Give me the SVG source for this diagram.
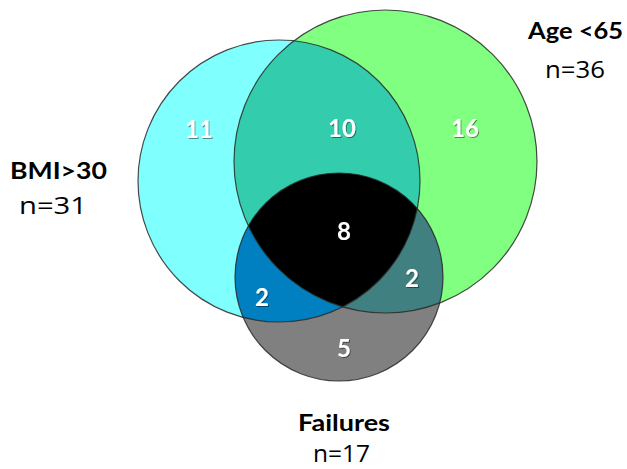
<svg xmlns="http://www.w3.org/2000/svg" width="627" height="469" viewBox="0 0 627 469">
<style>
.lbl{font-family:Lato,"Open Sans","Liberation Sans",sans-serif;fill:#000}
.b{font-weight:bold;font-size:23px}
.r{font-family:"Open Sans",Lato,"Liberation Sans",sans-serif;font-size:23px}
.num{font-family:Lato,"Open Sans","Liberation Sans",sans-serif;font-weight:bold;font-size:24px;fill:#fff;text-anchor:middle;filter:url(#sh)}
.ring{fill:none;stroke:#2a2a2a;stroke-width:1.2;stroke-opacity:0.85}
</style>
<defs>
<filter id="sh" x="-20%" y="-20%" width="140%" height="140%"><feDropShadow dx="1" dy="1" stdDeviation="0.6" flood-color="#000" flood-opacity="0.45"/></filter>
<clipPath id="cC"><circle cx="279" cy="181" r="141"/></clipPath>
<clipPath id="cG"><circle cx="385.5" cy="161.5" r="151.5"/></clipPath>
</defs>
<rect width="627" height="469" fill="#fff"/>
<g id="fills">
<circle cx="279" cy="181" r="141" fill="#80FFFF"/>
<circle cx="385.5" cy="161.5" r="151.5" fill="#80FF80"/>
<circle cx="339" cy="277" r="104" fill="#808080"/>
<circle cx="385.5" cy="161.5" r="151.5" fill="#33CDAD" clip-path="url(#cC)"/>
<circle cx="339" cy="277" r="104" fill="#0080C0" clip-path="url(#cC)"/>
<circle cx="339" cy="277" r="104" fill="#408080" clip-path="url(#cG)"/>
<g clip-path="url(#cC)"><circle cx="339" cy="277" r="104" fill="#000" clip-path="url(#cG)"/></g>
</g>
<g id="bmi">
<circle class="ring" cx="279" cy="181" r="141"/>
<text class="lbl b" x="10" y="179" textLength="97" lengthAdjust="spacingAndGlyphs">BMI&gt;30</text>
<text class="lbl r" x="19" y="214" textLength="68" lengthAdjust="spacingAndGlyphs">n=31</text>
</g>
<g id="age">
<circle class="ring" cx="385.5" cy="161.5" r="151.5"/>
<text class="lbl b" x="528" y="39" textLength="95" lengthAdjust="spacingAndGlyphs">Age &lt;65</text>
<text class="lbl r" x="545" y="78" textLength="60" lengthAdjust="spacingAndGlyphs">n=36</text>
</g>
<g id="failures">
<circle class="ring" cx="339" cy="277" r="104"/>
<text class="lbl b" x="298" y="431" textLength="92" lengthAdjust="spacingAndGlyphs">Failures</text>
<text class="lbl r" x="313" y="462" font-size="22" textLength="57" lengthAdjust="spacingAndGlyphs">n=17</text>
</g>
<g id="counts">
<text class="num" x="199" y="138">11</text>
<text class="num" x="342" y="137">10</text>
<text class="num" x="465" y="137">16</text>
<text class="num" x="344" y="240">8</text>
<text class="num" x="262" y="306">2</text>
<text class="num" x="412" y="287">2</text>
<text class="num" x="344" y="357">5</text>
</g>
<g id="connectors"/>
</svg>
